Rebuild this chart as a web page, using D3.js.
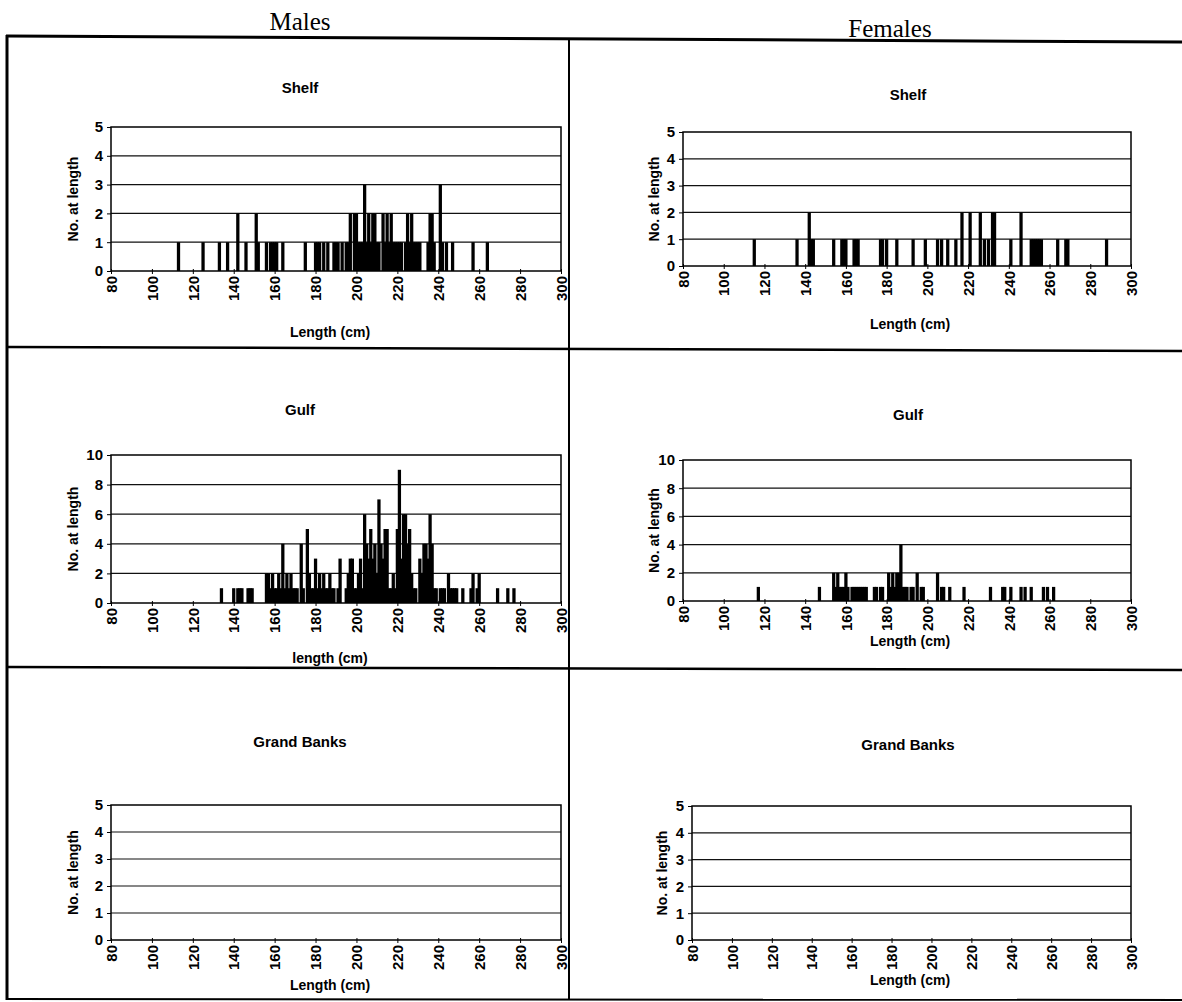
<!DOCTYPE html>
<html>
<head>
<meta charset="utf-8">
<script src="https://cdn.jsdelivr.net/npm/d3@7"></script>
<style>
  body { margin: 0; background: #fff; }
  svg text { font-family: "Liberation Sans", Arial, sans-serif; font-weight: bold; fill: #000; }
  .sex { font-family: "Liberation Serif", "Times New Roman", serif; font-weight: normal; font-size: 25px; }
</style>
</head>
<body>
<svg id="chart"></svg>
<script>
// length-frequency data, [length cm, count]
const maleShelf = [
  [113,1],[125,1],[133,1],[137,1],[142,2],[146,1],[151,2],[152,1],[156,1],[158,1],[159,1],[160,1],[161,1],
  [164,1],[175,1],[180,1],[181,1],[182,1],[184,1],[186,1],[189,1],[190,1],[191,1],[193,1],[195,1],[196,1],
  [197,2],[199,2],[200,2],[201,1],[202,1],[203,1],[204,3],[205,1],[206,2],[207,1],[208,2],[209,2],[210,1],
  [211,1],[213,2],[214,1],[215,2],[216,1],[217,2],[218,1],[219,1],[220,1],[221,1],[222,1],[224,1],[225,2],
  [226,1],[227,2],[228,1],[229,1],[230,1],[231,1],[235,1],[236,2],[237,2],[238,1],[241,3],[242,1],[244,1],
  [247,1],[257,1],[264,1]
];
const femaleShelf = [
  [115,1],[136,1],[142,2],[143,1],[144,1],[154,1],[158,1],[159,1],[160,1],[164,1],[165,1],[166,1],[177,1],
  [178,1],[180,1],[185,1],[193,1],[199,1],[205,1],[207,1],[210,1],[214,1],[217,2],[221,2],[226,2],[228,1],
  [230,1],[232,2],[233,2],[241,1],[246,2],[251,1],[252,1],[253,1],[254,1],[255,1],[256,1],[264,1],[268,1],
  [269,1],[288,1]
];
const maleGulf = [
  [134,1],[140,1],[142,1],[143,1],[144,1],[147,1],[148,1],[149,1],[156,2],[157,2],[158,1],[159,2],[160,1],
  [161,1],[162,2],[163,1],[164,4],[165,1],[166,2],[167,1],[168,2],[169,1],[170,1],[171,1],[173,4],[174,1],
  [176,5],[177,2],[178,1],[179,1],[180,3],[181,1],[182,2],[183,1],[184,2],[185,1],[186,1],[187,2],[188,1],
  [189,1],[191,1],[192,3],[195,1],[196,2],[197,3],[198,3],[199,1],[200,1],[201,2],[202,3],[203,1],[204,6],
  [205,4],[206,3],[207,5],[208,3],[209,4],[210,2],[211,7],[212,4],[213,3],[214,5],[215,5],[216,1],[217,1],
  [218,2],[219,1],[220,5],[221,9],[222,3],[223,6],[224,6],[225,4],[226,5],[227,2],[228,1],[229,1],[231,3],
  [232,2],[233,4],[234,4],[235,3],[236,6],[237,4],[238,1],[239,1],[241,1],[242,1],[243,1],[245,2],[246,1],
  [247,1],[248,1],[249,1],[252,1],[256,1],[257,2],[259,1],[260,2],[269,1],[274,1],[277,1]
];
const femaleGulf = [
  [117,1],[147,1],[154,2],[155,1],[156,2],[157,1],[158,1],[159,1],[160,2],[161,1],[163,1],[164,1],[165,1],
  [166,1],[167,1],[168,1],[169,1],[170,1],[174,1],[175,1],[177,1],[178,1],[181,2],[182,1],[183,2],[184,1],
  [185,2],[186,2],[187,4],[188,1],[189,1],[190,1],[192,1],[193,1],[195,2],[197,1],[198,1],[205,2],[207,1],
  [208,1],[211,1],[218,1],[231,1],[237,1],[238,1],[241,1],[246,1],[248,1],[251,1],[257,1],[259,1],[262,1]
];
const maleBanks = [];
const femaleBanks = [];

const lengthTicks = d3.range(80, 301, 20);
const shelfTicks = [0, 1, 2, 3, 4, 5];
const gulfTicks = [0, 2, 4, 6, 8, 10];

const width = 1182, height = 1002;
const svg = d3.select('#chart').attr('width', width).attr('height', height);

// column headers
svg.append('text').attr('class', 'sex').attr('x', 300).attr('y', 30)
  .attr('text-anchor', 'middle').text('Males');
svg.append('text').attr('class', 'sex').attr('x', 890).attr('y', 37)
  .attr('text-anchor', 'middle').text('Females');

// frame around the six panels (scan is a bit skewed)
const frame = svg.append('g').attr('stroke', '#000').attr('fill', 'none');
frame.append('line').attr('x1', 6).attr('y1', 36).attr('x2', 1182).attr('y2', 42).attr('stroke-width', 3);
frame.append('line').attr('x1', 7).attr('y1', 35).attr('x2', 7).attr('y2', 1000).attr('stroke-width', 3);
frame.append('line').attr('x1', 6).attr('y1', 999).attr('x2', 1182).attr('y2', 1000).attr('stroke-width', 2);
frame.append('line').attr('x1', 569).attr('y1', 38).attr('x2', 569).attr('y2', 1000).attr('stroke-width', 2);
frame.append('line').attr('x1', 6).attr('y1', 347).attr('x2', 1182).attr('y2', 351).attr('stroke-width', 2.5);
frame.append('line').attr('x1', 6).attr('y1', 667).attr('x2', 1182).attr('y2', 670).attr('stroke-width', 2.5);

const panels = [
  {title: 'Shelf', data: maleShelf, ticks: shelfTicks, xlab: 'Length (cm)',
   l: 111, r: 561, t: 127, b: 271, tx: 300, ty: 93, lx: 330, ly: 337, yx: 78},
  {title: 'Shelf', data: femaleShelf, ticks: shelfTicks, xlab: 'Length (cm)',
   l: 683, r: 1131, t: 132, b: 266, tx: 908, ty: 100, lx: 910, ly: 329, yx: 659},
  {title: 'Gulf', data: maleGulf, ticks: gulfTicks, xlab: 'length (cm)',
   l: 111, r: 561, t: 455, b: 603, tx: 300, ty: 415, lx: 330, ly: 663, yx: 78},
  {title: 'Gulf', data: femaleGulf, ticks: gulfTicks, xlab: 'Length (cm)',
   l: 683, r: 1131, t: 460, b: 601, tx: 908, ty: 420, lx: 910, ly: 646, yx: 659},
  {title: 'Grand Banks', data: maleBanks, ticks: shelfTicks, xlab: 'Length (cm)',
   l: 111, r: 561, t: 805, b: 940, tx: 300, ty: 747, lx: 330, ly: 990, yx: 78},
  {title: 'Grand Banks', data: femaleBanks, ticks: shelfTicks, xlab: 'Length (cm)',
   l: 692, r: 1131, t: 806, b: 940, tx: 908, ty: 750, lx: 910, ly: 985, yx: 667}
];

panels.forEach(p => {
  const g = svg.append('g');
  const x = d3.scaleLinear().domain([80, 300]).range([p.l, p.r]);
  const y = d3.scaleLinear().domain([0, d3.max(p.ticks)]).range([p.b, p.t]);
  const barW = (x(1) - x(0)) * 1.6;

  g.append('text').attr('x', p.tx).attr('y', p.ty).attr('text-anchor', 'middle')
    .style('font-size', '15px').text(p.title);

  // gridlines
  g.selectAll('.grid').data(p.ticks.slice(1, -1)).enter().append('line')
    .attr('x1', p.l).attr('x2', p.r)
    .attr('y1', d => y(d)).attr('y2', d => y(d))
    .attr('stroke', '#111').attr('stroke-width', 1.2);

  g.selectAll('.bar').data(p.data).enter().append('rect')
    .attr('x', d => x(d[0]) - barW / 2)
    .attr('y', d => y(d[1]))
    .attr('width', barW)
    .attr('height', d => y(0) - y(d[1]))
    .attr('fill', '#000');

  g.append('rect').attr('x', p.l).attr('y', p.t)
    .attr('width', p.r - p.l).attr('height', p.b - p.t)
    .attr('fill', 'none').attr('stroke', '#000').attr('stroke-width', 1.5);

  const yAxis = g.append('g').attr('transform', `translate(${p.l},0)`)
    .call(d3.axisLeft(y).tickValues(p.ticks).tickSize(4).tickPadding(4).tickFormat(d3.format('d')));
  yAxis.select('.domain').remove();
  yAxis.selectAll('text').style('font-size', '15px').style('font-family', '"Liberation Sans", Arial, sans-serif');

  const xAxis = g.append('g').attr('transform', `translate(0,${p.b})`)
    .call(d3.axisBottom(x).tickValues(lengthTicks).tickSizeInner(3).tickSizeOuter(0));
  xAxis.select('.domain').remove();
  xAxis.selectAll('.tick line').attr('y1', -2).attr('y2', 3);
  xAxis.selectAll('text')
    .style('font-size', '15px').style('font-family', '"Liberation Sans", Arial, sans-serif')
    .attr('transform', 'rotate(-90)')
    .attr('text-anchor', 'end')
    .attr('x', -5).attr('y', 0).attr('dy', '0.35em');

  g.append('text').attr('x', p.lx).attr('y', p.ly).attr('text-anchor', 'middle')
    .style('font-size', '14px').text(p.xlab);

  g.append('text')
    .attr('transform', `translate(${p.yx},${(p.t + p.b) / 2}) rotate(-90)`)
    .attr('text-anchor', 'middle').style('font-size', '14px').text('No. at length');
});
</script>
</body>
</html>
